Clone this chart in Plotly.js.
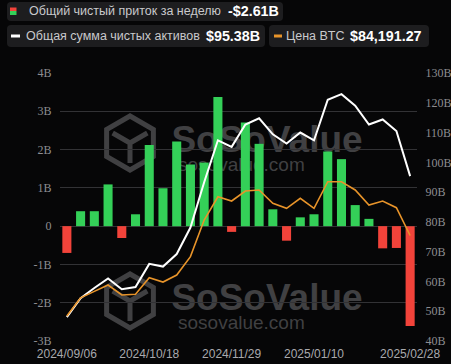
<!DOCTYPE html>
<html>
<head>
<meta charset="utf-8">
<script src="https://cdn.plot.ly/plotly-3.0.1.min.js"></script>
<style>
html,body{margin:0;padding:0;background:#060607;}
#chart{width:451px;height:364px;}
</style>
</head>
<body>
<div id="chart"></div>
<script>
// ---- data ----
const dates = ['2024/09/06','2024/09/13','2024/09/20','2024/09/27','2024/10/04','2024/10/11','2024/10/18','2024/10/25','2024/11/01','2024/11/08','2024/11/15','2024/11/22','2024/11/29','2024/12/06','2024/12/13','2024/12/20','2024/12/27','2025/01/03','2025/01/10','2025/01/17','2025/01/24','2025/01/31','2025/02/07','2025/02/14','2025/02/21','2025/02/28'];
const netInflow = [-0.70, 0.39, 0.39, 1.09, -0.31, 0.31, 2.12, 0.99, 2.21, 1.61, 1.66, 3.37, -0.15, 2.71, 2.15, 0.44, -0.38, 0.23, 0.31, 1.95, 1.75, 0.55, 0.19, -0.58, -0.57, -2.61];
const totalAssets = [48.0, 54.4, 57.8, 61.0, 57.4, 58.1, 65.9, 65.0, 69.2, 78.1, 93.3, 107.4, 105.2, 112.7, 114.8, 109.4, 106.3, 110.0, 107.4, 121.0, 122.9, 119.0, 112.7, 114.4, 110.5, 95.38];
const btcPrice = [53950, 60800, 63200, 65600, 61850, 62100, 68350, 66700, 69350, 76250, 90000, 98750, 97150, 100900, 101300, 96300, 94400, 98150, 94400, 104400, 104400, 101300, 95650, 97150, 94650, 84191.27];
const xTicks = ['2024/09/06','2024/10/18','2024/11/29','2025/01/10','2025/02/28'];
const leftTickVals = [-3,-2,-1,0,1,2,3,4];
const leftTickText = ['-3B','-2B','-1B','0','1B','2B','3B','4B'];
const rightTickVals = [40,50,60,70,80,90,100,110,120,130];
const rightTickText = ['40B','50B','60B','70B','80B','90B','100B','110B','120B','130B'];
const legendLabels = ['Общий чистый приток за неделю','Общая сумма чистых активов','Цена BTC'];
const legendValues = ['-$2.61B','$95.38B','$84,191.27'];

// ---- geometry helpers (pixel -> paper) ----
const M = {l:60, r:34, t:73, b:23};
const W = 451, H = 364;
const PW = W - M.l - M.r, PH = H - M.t - M.b;
const px = x => (x - M.l) / PW;
const py = y => (H - M.b - y) / PH;
function rrect(x0,y0,x1,y1,r){
  const X=v=>px(v).toFixed(5), Y=v=>py(v).toFixed(5);
  return `M${X(x0+r)},${Y(y0)} L${X(x1-r)},${Y(y0)} Q${X(x1)},${Y(y0)} ${X(x1)},${Y(y0+r)} L${X(x1)},${Y(y1-r)} Q${X(x1)},${Y(y1)} ${X(x1-r)},${Y(y1)} L${X(x0+r)},${Y(y1)} Q${X(x0)},${Y(y1)} ${X(x0)},${Y(y1-r)} L${X(x0)},${Y(y0+r)} Q${X(x0)},${Y(y0)} ${X(x0+r)},${Y(y0)} Z`;
}
function hexPath(cx,cy,R){
  let s='';
  for(let i=0;i<6;i++){
    const a=Math.PI/180*(90+60*i);
    const x=cx+R*Math.cos(a), y=cy-R*Math.sin(a);
    s+=(i?'L':'M')+px(x).toFixed(5)+','+py(y).toFixed(5)+' ';
  }
  return s+'Z';
}
function cubeLines(cx,cy,R){
  const pts=[150,270,30].map(d=>{const a=Math.PI/180*d;return [cx+R*Math.cos(a), cy-R*Math.sin(a)];});
  let s='';
  pts.forEach(p=>{s+=`M${px(cx).toFixed(5)},${py(cy).toFixed(5)} L${px(p[0]).toFixed(5)},${py(p[1]).toFixed(5)} `;});
  return s;
}

const GREEN='#34d058', RED='#f2433a', ORANGE='#e8942a';
const barColors = netInflow.map(v => v >= 0 ? GREEN : RED);

const traces = [
  {type:'bar', x:dates, y:netInflow, marker:{color:barColors}, yaxis:'y', hoverinfo:'skip'},
  {type:'scatter', mode:'lines', x:dates, y:totalAssets, yaxis:'y2', line:{color:'#ffffff', width:2}, hoverinfo:'skip'},
  {type:'scatter', mode:'lines', x:dates, y:btcPrice, yaxis:'y3', line:{color:ORANGE, width:1.6}, hoverinfo:'skip'}
];

const wmColor = '#404042';
const shapes = [];
const annotations = [];
// watermarks
[0,158].forEach(dy=>{
  shapes.push({type:'path', xref:'paper', yref:'paper', layer:'below', path:hexPath(130,143+dy,27), line:{color:wmColor,width:5}, fillcolor:'rgba(0,0,0,0)'});
  shapes.push({type:'path', xref:'paper', yref:'paper', layer:'below', path:cubeLines(130,143+dy,20), line:{color:wmColor,width:5}});
  shapes.push({type:'rect', xref:'paper', yref:'paper', layer:'below', x0:px(172), x1:px(362), y0:py(152+dy), y1:py(118+dy), line:{width:0}, fillcolor:'rgba(0,0,0,0)',
    label:{text:'SoSoValue', textposition:'middle center', font:{family:'Liberation Sans, Arial', size:37, color:wmColor, weight:700}}});
  shapes.push({type:'rect', xref:'paper', yref:'paper', layer:'below', x0:px(172), x1:px(300), y0:py(172+dy), y1:py(152+dy), line:{width:0}, fillcolor:'rgba(0,0,0,0)',
    label:{text:'sosovalue.com', textposition:'middle left', font:{family:'Liberation Sans, Arial', size:19, color:wmColor}}});
});
// legend boxes
const boxColor = '#1d1d1f';
shapes.push({type:'path', xref:'paper', yref:'paper', path:rrect(7,2,283,21,4), fillcolor:boxColor, line:{width:0}});
shapes.push({type:'path', xref:'paper', yref:'paper', path:rrect(7,25,265,47,4), fillcolor:boxColor, line:{width:0}});
shapes.push({type:'path', xref:'paper', yref:'paper', path:rrect(269,25,429,47,4), fillcolor:boxColor, line:{width:0}});
// swatches
shapes.push({type:'rect', xref:'paper', yref:'paper', x0:px(10), x1:px(16.5), y0:py(7.5), y1:py(11), fillcolor:RED, line:{width:0}});
shapes.push({type:'rect', xref:'paper', yref:'paper', x0:px(10), x1:px(16.5), y0:py(11), y1:py(15), fillcolor:GREEN, line:{width:0}});
shapes.push({type:'line', xref:'paper', yref:'paper', x0:px(11), x1:px(20), y0:py(36), y1:py(36), line:{color:'#ffffff', width:3}});
shapes.push({type:'line', xref:'paper', yref:'paper', x0:px(274), x1:px(282), y0:py(36), y1:py(36), line:{color:ORANGE, width:3}});

const lf = {family:'Liberation Sans', size:12.5, color:'#c9c9cc'};
const vf = {family:'Liberation Sans', size:14.3, color:'#ffffff', weight:700};
const legendItems = [[27,11.5,226],[24,36,204],[284,36,348]];
legendItems.forEach((it,i)=>{
  annotations.push({xref:'paper', yref:'paper', x:px(it[0]), y:py(it[1]), xanchor:'left', yanchor:'middle', showarrow:false, text:legendLabels[i], font:lf});
  annotations.push({xref:'paper', yref:'paper', x:px(it[2]), y:py(it[1]), xanchor:'left', yanchor:'middle', showarrow:false, text:'<b>'+legendValues[i]+'</b>', font:vf});
});

const tickFontSerif = {family:'Liberation Serif', size:12, color:'#8d8d90'};
const layout = {
  width:W, height:H,
  margin:M,
  paper_bgcolor:'#060607', plot_bgcolor:'#060607',
  showlegend:false,
  bargap:0.34,
  xaxis:{type:'category', range:[-0.5, dates.length-0.5], tickmode:'array', tickvals:xTicks, ticktext:xTicks,
    showgrid:false, zeroline:false, showline:false, ticks:'outside', ticklen:2, tickcolor:'rgba(0,0,0,0)',
    tickfont:{family:'Liberation Sans', size:12, color:'#a9a9ad'}, fixedrange:true},
  yaxis:{range:[-3,4], tickmode:'array', tickvals:leftTickVals, ticktext:leftTickText, showgrid:true, gridcolor:'#323235', gridwidth:1,
    zeroline:false, showline:false, ticks:'outside', ticklen:5, tickcolor:'rgba(0,0,0,0)', tickfont:tickFontSerif, fixedrange:true},
  yaxis2:{range:[40,130], overlaying:'y', side:'right', tickmode:'array', tickvals:rightTickVals, ticktext:rightTickText,
    showgrid:false, zeroline:false, showline:false, ticks:'outside', ticklen:5, tickcolor:'rgba(0,0,0,0)', tickfont:tickFontSerif, fixedrange:true},
  yaxis3:{range:[44560,145240], overlaying:'y', side:'right', visible:false, showgrid:false, zeroline:false, fixedrange:true},
  shapes:shapes,
  annotations:annotations
};

Plotly.newPlot('chart', traces, layout, {displayModeBar:false, staticPlot:true});
</script>
</body>
</html>
